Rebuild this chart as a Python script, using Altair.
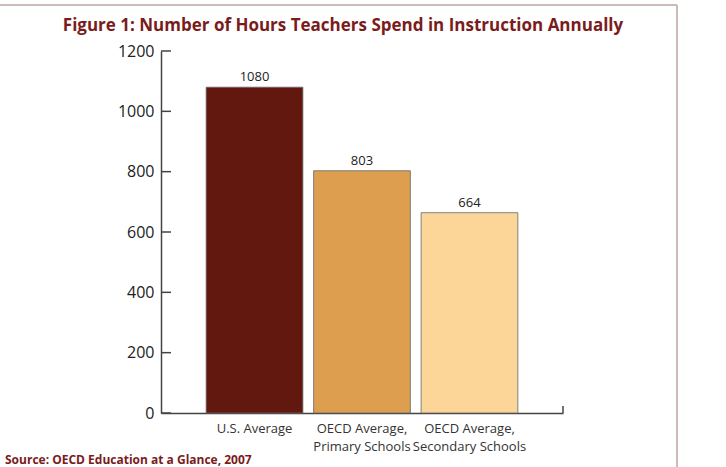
import altair as alt
import pandas as pd

title_text = "Figure 1: Number of Hours Teachers Spend in Instruction Annually"
source_text = "Source: OECD Education at a Glance, 2007"
categories = ["U.S. Average", "OECD Average,\nPrimary Schools", "OECD Average,\nSecondary Schools"]
hours = [1080, 803, 664]
bar_colors = ["#63180f", "#dd9f4f", "#fcd698"]
y_ticks = [0, 200, 400, 600, 800, 1000, 1200]

FONT = "Open Sans"
AXIS_COLOR = "#444444"
TITLE_COLOR = "#7a1c1c"
FRAME_COLOR = "#bfa3a3"

W, H = 402, 362

df = pd.DataFrame({"category": categories, "hours": hours})
ticks_df = pd.DataFrame({"v": y_ticks})
src_df = pd.DataFrame({"t": [source_text]})
title_df = pd.DataFrame({"t": [title_text]})

x_enc = alt.X(
    "category:N",
    sort=categories,
    scale=alt.Scale(paddingInner=0.1, paddingOuter=0.42),
    axis=alt.Axis(
        title=None, labelAngle=0, ticks=False, domain=True,
        domainColor=AXIS_COLOR, domainWidth=1.5,
        labelFont=FONT, labelFontSize=13, labelColor="#333333",
        labelPadding=9, labelLineHeight=18, labelBaseline="top",
        labelExpr="split(datum.label, '\\n')",
    ),
)
y_scale = alt.Scale(domain=[0, 1200], nice=False)

bars = alt.Chart(df).mark_bar(stroke="#666666", strokeWidth=0.8).encode(
    x=x_enc,
    y=alt.Y(
        "hours:Q", scale=y_scale,
        axis=alt.Axis(
            title=None, values=y_ticks, ticks=False, grid=False, format="d",
            domain=True, domainColor=AXIS_COLOR, domainWidth=1.5,
            labelFont=FONT, labelFontSize=16, labelColor="#222222",
            labelPadding=7,
        ),
    ),
    color=alt.Color("category:N", scale=alt.Scale(domain=categories, range=bar_colors), legend=None),
)

labels = alt.Chart(df).mark_text(
    baseline="bottom", dy=-3, font=FONT, fontSize=13, color="#222222"
).encode(
    x=alt.X("category:N", sort=categories),
    y=alt.Y("hours:Q", scale=y_scale),
    text=alt.Text("hours:Q"),
)

y_tick_marks = alt.Chart(ticks_df).mark_rule(color=AXIS_COLOR, strokeWidth=1.5).encode(
    y=alt.Y("v:Q", scale=y_scale),
    x=alt.value(0),
    x2=alt.value(10),
)

end_tick = alt.Chart(src_df).mark_rule(color=AXIS_COLOR, strokeWidth=1.5).encode(
    x=alt.value(W), y=alt.value(H), y2=alt.value(H - 7)
)

source = alt.Chart(src_df).mark_text(
    align="left", baseline="alphabetic", font=FONT, fontSize=12,
    fontWeight="bold", color=TITLE_COLOR
).encode(text="t:N", x=alt.value(-156), y=alt.value(413))

title = alt.Chart(title_df).mark_text(
    align="center", baseline="alphabetic", font=FONT, fontSize=17,
    fontWeight="bold", color=TITLE_COLOR
).encode(text="t:N", x=alt.value(182), y=alt.value(-20))

frame_top = alt.Chart(src_df).mark_rule(color=FRAME_COLOR, strokeWidth=1.5).encode(
    x=alt.value(-161), x2=alt.value(516), y=alt.value(-46)
)
frame_right = alt.Chart(src_df).mark_rule(color=FRAME_COLOR, strokeWidth=1.5).encode(
    x=alt.value(516), y=alt.value(-46), y2=alt.value(420)
)

chart = alt.layer(
    frame_top, frame_right, bars, labels, y_tick_marks, end_tick, source, title
).properties(
    width=W, height=H,
    autosize=alt.AutoSizeParams(type="none"),
    padding={"left": 161, "top": 51, "right": 163, "bottom": 54},
    background="white",
).configure_view(stroke=None)

chart.save("out.html", embed_options={"renderer": "svg", "actions": False})
